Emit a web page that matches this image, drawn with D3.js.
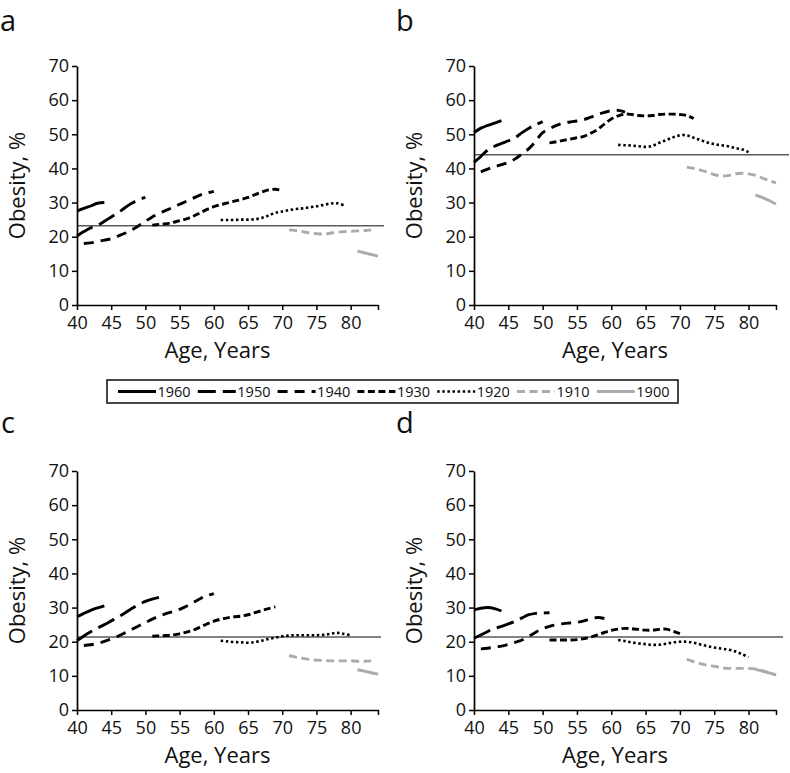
<!DOCTYPE html>
<html><head><meta charset="utf-8">
<script src="https://cdn.jsdelivr.net/npm/d3@7/dist/d3.min.js"></script>
<style>
body{margin:0;background:#fff}
svg text{font-family:"Open Sans",sans-serif;fill:#111}
</style>
</head><body>
<svg id="chart" width="790" height="773"></svg>
<script>
// ---------- data ----------
const cohorts = ["1960","1950","1940","1930","1920","1910","1900"];
const startAges = [40, 40, 41, 51, 61, 71, 81];
const xTickValues = [40, 45, 50, 55, 60, 65, 70, 75, 80];
const yTickValues = [0, 10, 20, 30, 40, 50, 60, 70];
const panelNames = ["a", "b", "c", "d"];
const refLevels = [23.2, 44.0, 21.4, 21.4];

const panelA = [
  [27.5, 28.3, 29.0, 29.8, 30.0],
  [20.2, 21.5, 22.6, 23.3, 24.5, 25.8, 27.0, 28.5, 29.8, 30.8, 31.5],
  [18.0, 18.2, 18.6, 19.0, 19.4, 20.2, 21.0, 22.0, 23.2, 24.5, 25.8, 26.8, 27.7, 28.6, 29.5, 30.4, 31.3, 32.2, 32.8, 33.3],
  [23.4, 23.6, 23.8, 24.2, 24.7, 25.2, 26.0, 27.0, 28.0, 28.8, 29.4, 29.9, 30.4, 30.9, 31.5, 32.3, 33.1, 33.7, 33.9, 33.5],
  [24.9, 24.9, 24.9, 25.0, 25.0, 25.1, 25.5, 26.2, 27.0, 27.4, 27.8, 28.1, 28.3, 28.6, 28.9, 29.3, 29.7, 29.8, 29.2],
  [22.0, 21.8, 21.5, 21.1, 20.9, 20.8, 21.0, 21.3, 21.5, 21.6, 21.7, 21.8, 22.0],
  [15.8, 15.3, 14.8, 14.3]
];
const panelB = [
  [50.5, 51.8, 52.6, 53.3, 54.0],
  [41.8, 43.5, 45.4, 46.5, 47.3, 48.1, 49.0, 50.5, 51.8, 52.8, 53.7],
  [39.0, 39.8, 40.5, 41.1, 41.8, 42.8, 44.3, 45.8, 48.0, 50.5, 51.6, 52.6, 53.3, 53.6, 53.9, 54.3, 55.0, 55.8, 56.4, 56.9, 57.0, 56.5],
  [47.5, 47.8, 48.2, 48.6, 49.0, 49.4, 50.3, 51.4, 53.0, 54.5, 55.4, 55.9, 55.8, 55.5, 55.4, 55.5, 55.8, 55.9, 55.9, 55.8, 55.5, 54.6],
  [46.9, 46.8, 46.7, 46.5, 46.3, 46.6, 47.5, 48.3, 49.1, 49.7, 49.7, 49.0, 48.3, 47.6, 47.1, 46.8, 46.5, 46.0, 45.6, 44.8],
  [40.4, 40.0, 39.5, 38.9, 38.2, 37.8, 37.9, 38.4, 38.6, 38.4, 38.0, 37.2, 36.4, 35.8],
  [32.2, 31.5, 30.6, 29.6]
];
const panelC = [
  [27.3, 28.3, 29.2, 29.9, 30.5],
  [20.3, 21.7, 22.9, 24.0, 25.0, 26.1, 27.2, 28.4, 29.7, 30.9, 31.8, 32.5, 33.0],
  [18.9, 19.1, 19.5, 20.1, 20.8, 21.6, 22.6, 23.6, 24.6, 25.6, 26.6, 27.5, 28.2, 28.8, 29.5, 30.4, 31.5, 32.6, 33.5, 34.1],
  [21.6, 21.7, 21.8, 22.0, 22.3, 22.8, 23.4, 24.3, 25.2, 26.0, 26.6, 27.0, 27.3, 27.5, 27.9, 28.5, 29.1, 29.7, 30.2],
  [20.3, 20.1, 19.9, 19.8, 19.7, 19.9, 20.3, 20.8, 21.2, 21.6, 21.8, 21.9, 21.9, 21.9, 21.9, 22.0, 22.3, 22.6, 22.3, 21.9],
  [15.9, 15.5, 15.1, 14.8, 14.6, 14.5, 14.4, 14.4, 14.4, 14.4, 14.3, 14.3, 14.4],
  [11.8, 11.4, 10.9, 10.5]
];
const panelD = [
  [29.3, 29.8, 30.0, 29.7, 29.0],
  [21.0, 22.0, 23.0, 23.8, 24.5, 25.2, 26.0, 27.0, 27.9, 28.3, 28.4, 28.5],
  [17.9, 18.1, 18.4, 18.7, 19.2, 19.8, 20.5, 21.6, 22.8, 23.8, 24.5, 25.0, 25.3, 25.5, 25.7, 26.1, 26.7, 27.1, 26.8],
  [20.5, 20.5, 20.5, 20.5, 20.6, 20.9, 21.3, 22.0, 22.7, 23.3, 23.7, 23.9, 23.8, 23.6, 23.4, 23.4, 23.6, 23.7, 23.1, 22.4],
  [20.5, 20.2, 19.8, 19.5, 19.3, 19.1, 19.1, 19.4, 19.8, 20.0, 20.0, 19.7, 19.2, 18.7, 18.3, 18.0, 17.7, 17.2, 16.4, 15.5],
  [14.8, 14.2, 13.6, 13.1, 12.8, 12.4, 12.2, 12.2, 12.2, 12.2, 12.0, 11.5, 10.9, 10.3],
  [11.9, 11.4, 10.9, 10.3]
];
const panelValues = [panelA, panelB, panelC, panelD];

// ---------- styles / layout ----------
const cohortColors = ["#000", "#000", "#000", "#000", "#000", "#ababab", "#ababab"];
const cohortDashes = [null, "18,7", "10,7", "7,3.5", "2.5,2.6", "8,4.5", null];
const layout = [
  {x: 77,  y: 66,  w: 301, h: 239, refExt: 6,  lx: 0,   ly: 31},
  {x: 474, y: 66,  w: 302, h: 239, refExt: 13, lx: 396, ly: 31},
  {x: 77,  y: 471, w: 301, h: 239, refExt: 3,  lx: 1,   ly: 433},
  {x: 474, y: 471, w: 302, h: 239, refExt: 7,  lx: 396, ly: 433}
];

const svg = d3.select("#chart");

panelNames.forEach((name, pi) => {
  const L = layout[pi];
  const g = svg.append("g");
  const x = d3.scaleLinear().domain([40, 84]).range([L.x, L.x + L.w]);
  const y = d3.scaleLinear().domain([0, 70]).range([L.y + L.h, L.y]);

  // reference line
  g.append("line")
    .attr("x1", L.x).attr("x2", L.x + L.w + L.refExt)
    .attr("y1", y(refLevels[pi])).attr("y2", y(refLevels[pi]))
    .attr("stroke", "#5a5a5a").attr("stroke-width", 1.6);

  // series
  const line = d3.line().curve(d3.curveCatmullRom.alpha(0.5))
    .x(d => x(d[0])).y(d => y(d[1]));
  panelValues[pi].forEach((vals, ci) => {
    const pts = vals.map((v, i) => [startAges[ci] + i, v]);
    g.append("path").datum(pts)
      .attr("d", line)
      .attr("fill", "none")
      .attr("stroke", cohortColors[ci])
      .attr("stroke-width", ci === 4 ? 2.6 : 2.9)
      .attr("stroke-dasharray", cohortDashes[ci]);
  });

  // axes
  const xAxis = d3.axisBottom(x).tickValues(xTickValues.concat([84]))
    .tickFormat(d => d === 84 ? "" : d).tickSize(5).tickSizeOuter(0).tickPadding(6);
  const gx = g.append("g").attr("transform", `translate(0,${L.y + L.h})`).call(xAxis);
  const yAxis = d3.axisLeft(y).tickValues(yTickValues).tickSize(5).tickSizeOuter(0).tickPadding(3);
  const gy = g.append("g").attr("transform", `translate(${L.x},0)`).call(yAxis);
  [gx, gy].forEach(ax => {
    ax.select(".domain").attr("stroke", "#000").attr("stroke-width", 1.7);
    ax.selectAll(".tick line").attr("stroke", "#000").attr("stroke-width", 1.5);
    ax.selectAll(".tick text").attr("font-size", 18).attr("fill", "#111")
      .style("font-family", "'Open Sans', sans-serif");
  });

  // titles
  g.append("text")
    .attr("transform", `translate(${L.x - 52},${L.y + L.h / 2}) rotate(-90)`)
    .attr("text-anchor", "middle").attr("font-size", 22)
    .text("Obesity, %");
  g.append("text")
    .attr("x", L.x + L.w / 2 - 10).attr("y", L.y + L.h + 53)
    .attr("text-anchor", "middle").attr("font-size", 22)
    .text("Age, Years");
  g.append("text")
    .attr("x", L.lx).attr("y", L.ly)
    .attr("font-size", 29)
    .text(name);
});

// ---------- legend ----------
const lg = svg.append("g");
lg.append("rect").attr("x", 107).attr("y", 380).attr("width", 571).attr("height", 23)
  .attr("fill", "#fff").attr("stroke", "#1a1a1a").attr("stroke-width", 1.6);
cohorts.forEach((c, i) => {
  const lx = 118 + i * 79.8;
  lg.append("line").attr("x1", lx).attr("x2", lx + 38).attr("y1", 391.5).attr("y2", 391.5)
    .attr("stroke", cohortColors[i]).attr("stroke-width", i === 4 ? 2.6 : 2.9)
    .attr("stroke-dasharray", cohortDashes[i]);
  lg.append("text").attr("x", lx + 39.5).attr("y", 396.5)
    .attr("font-size", 14.5).text(c);
});
</script>
</body></html>
